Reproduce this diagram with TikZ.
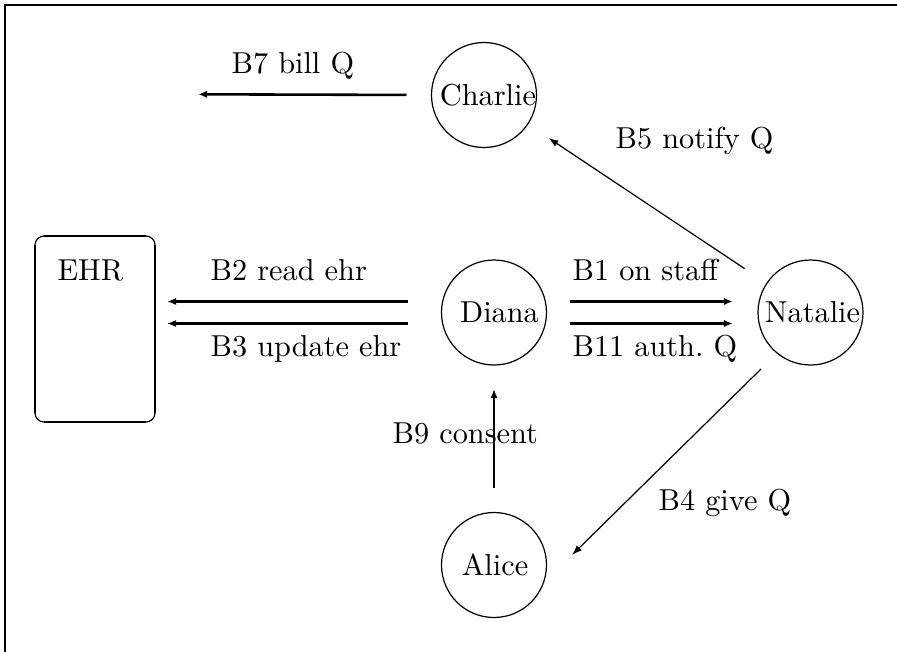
\documentclass[tikz,border=0pt]{standalone}
\usetikzlibrary{arrows.meta,calc}
\begin{document}
\begin{tikzpicture}[x=0.33pt,y=-0.33pt,
  agent/.style={circle,draw,line width=0.4pt,inner sep=0pt,outer sep=0pt,minimum size=34.65pt},
  name text/.style={inner sep=0pt},
  lbl/.style={inner sep=0pt,anchor=base west},
  thk/.style={line width=0.85pt,-{Latex[length=3pt,width=2.4pt]}},
  thn/.style={line width=0.4pt,-{Latex[length=3.3pt,width=2.3pt]}},
  store/.style={draw,line width=0.4pt,rounded corners=3pt,inner sep=0pt,outer sep=0pt,minimum width=39.6pt,minimum height=61.4pt}]
\useasboundingbox (0,0) rectangle (897,652);
% frame
\draw[line width=0.9pt] (5,652) -- (5,5) -- (897,5);
% nodes
\node[agent] (charlie) at (484,95) {};
\node[agent] (diana) at (494,312.5) {};
\node[agent] (natalie) at (810.5,312.5) {};
\node[agent] (alice) at (494,565) {};
\node[name text] (tcharlie) at ($(charlie)+(4,0)$) {Charlie};
\node[name text] (tdiana) at ($(diana)+(5.5,0)$) {Diana};
\node[name text] (tnatalie) at ($(natalie)+(2,0)$) {Natalie};
\node[name text] (talice) at ($(alice)+(1,0)$) {Alice};
\node[store] (ehr) at (95,329) {};
\draw[line width=0.85pt] ([xshift=3pt]ehr.north west) -- ([xshift=-3pt]ehr.north east);
\draw[line width=0.85pt] ([xshift=3pt]ehr.south west) -- ([xshift=-3pt]ehr.south east);
\draw[line width=0.85pt] ([yshift=-3pt]ehr.north west) -- ([yshift=3pt]ehr.south west);
\draw[line width=0.85pt] ([yshift=-3pt]ehr.north east) -- ([yshift=3pt]ehr.south east);
\node[lbl] (ehrlabel) at (57,280) {EHR};
% connectors
\coordinate (b7end) at (198,94.3);
\draw[thk,shorten <=8.25pt] (charlie.west) -- (b7end);
\draw[thk,shorten <=10.9pt,shorten >=4pt] ([yshift=3.63pt]diana.west) -- ([yshift=3.63pt]diana.west -| ehr.east);
\draw[thk,shorten <=10.9pt,shorten >=4pt] ([yshift=-3.63pt]diana.west) -- ([yshift=-3.63pt]diana.west -| ehr.east);
\draw[thk,shorten <=7.6pt,shorten >=8.25pt] ([yshift=3.63pt]diana.east) -- ([yshift=3.63pt]diana.east -| natalie.west);
\draw[thk,shorten <=7.6pt,shorten >=8.25pt] ([yshift=-3.63pt]diana.east) -- ([yshift=-3.63pt]diana.east -| natalie.west);
\draw[thn,shorten <=8.8pt,shorten >=8.25pt] (natalie) -- (charlie);
\draw[thn] ($(natalie)+(-49.5,56.5)$) -- ($(alice)+(78,-10)$);
\draw[thk,shorten <=8.25pt,shorten >=7.9pt] (alice) -- (diana);
% labels
\node[lbl] (l7) at (231,73) {B7 bill Q};
\node[lbl] (l2) at (210,280) {B2 read ehr};
\node[lbl] (l3) at (210,356) {B3 update ehr};
\node[lbl] (l1) at (572,280) {B1 on staff};
\node[lbl] (l11) at (572,356) {B11 auth.\ Q};
\node[lbl] (l5) at (615,148) {B5 notify Q};
\node[lbl] (l4) at (658,510) {B4 give Q};
\node[lbl] (l9) at (392,443) {B9 consent};
\end{tikzpicture}
\end{document}
